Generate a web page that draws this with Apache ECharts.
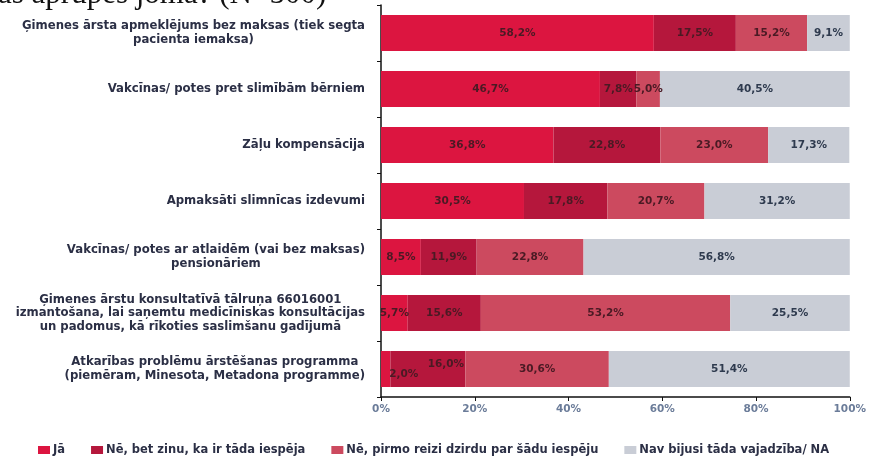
<!DOCTYPE html>
<html><head><meta charset="utf-8">
<script src="https://cdn.jsdelivr.net/npm/echarts@6/dist/echarts.min.js"></script>
<style>html,body{margin:0;padding:0;background:#fff}#c{width:869px;height:459px}</style>
</head><body><div id="c"></div>
<script>
const categories = [
  "Ģimenes ārsta apmeklējums bez maksas (tiek segta\npacienta iemaksa)",
  "Vakcīnas/ potes pret slimībām bērniem",
  "Zāļu kompensācija",
  "Apmaksāti slimnīcas izdevumi",
  "Vakcīnas/ potes ar atlaidēm (vai bez maksas)\npensionāriem",
  "Ģimenes ārstu konsultatīvā tālruņa 66016001\nizmantošana, lai saņemtu medicīniskas konsultācijas\nun padomus, kā rīkoties saslimšanu gadījumā",
  "Atkarības problēmu ārstēšanas programma\n(piemēram, Minesota, Metadona programme)"
];
const seriesNames = ["Jā", "Nē, bet zinu, ka ir tāda iespēja", "Nē, pirmo reizi dzirdu par šādu iespēju", "Nav bijusi tāda vajadzība/ NA"];
const jaValues = [58.2, 46.7, 36.8, 30.5, 8.5, 5.7, 2.0];
const neZinuValues = [17.5, 7.8, 22.8, 17.8, 11.9, 15.6, 16.0];
const nePirmoValues = [15.2, 5.0, 23.0, 20.7, 22.8, 53.2, 30.6];
const naValues = [9.1, 40.5, 17.3, 31.2, 56.8, 25.5, 51.4];
const xTicks = [0, 20, 40, 60, 80, 100];
const titleText = "as aprūpes jomā? (N=500)";

const colors = ["#DC1540", "#B5173C", "#CC4A5F", "#C9CDD6"];
const allValues = [jaValues, neZinuValues, nePirmoValues, naValues];
// label nudges for crowded segments (series index -> category index -> offset)
const labelNudge = {0: {6: [18, 5]}, 1: {6: [18, -5]}};

const F = "DejaVu Sans";
const chart = echarts.init(document.getElementById('c'), null, {renderer: 'canvas'});
chart.setOption({
  animation: false,
  backgroundColor: '#fff',
  graphic: [{
    type: 'text', left: -2, top: -21,
    style: {text: titleText, font: '31px "Liberation Serif"', fill: '#111'}
  }],
  grid: {left: 381, right: 18, top: 5, bottom: 62},
  legend: {
    top: 439, left: 33, itemWidth: 12, itemHeight: 8, itemGap: 26,
    icon: 'rect',
    textStyle: {fontFamily: F, fontSize: 11.5, fontWeight: 'bold', color: '#2b2f45', padding: [0, 0, 0, -2]},
    data: seriesNames
  },
  xAxis: {
    type: 'value', min: 0, max: 100, interval: 20,
    axisLine: {show: true, lineStyle: {color: '#111', width: 1.5}},
    axisTick: {show: true, length: 4, lineStyle: {color: '#111'}},
    splitLine: {show: false},
    axisLabel: {formatter: v => v + '%', fontFamily: F, fontSize: 10.5, fontWeight: 'bold', color: '#6b7c99', margin: 7}
  },
  yAxis: {
    type: 'category', inverse: true, data: categories,
    axisLine: {show: true, lineStyle: {color: '#111', width: 1.5}},
    axisTick: {show: true, length: 4, lineStyle: {color: '#111'}},
    axisLabel: {
      margin: 16, fontFamily: F, fontSize: 11.7, fontWeight: 'bold', color: '#2b2f45',
      formatter: v => v.split('\n').map(l => '{c|' + l + '}').join('\n'),
      rich: {c: {align: 'center', fontFamily: F, fontSize: 11.7, fontWeight: 'bold', color: '#2b2f45', lineHeight: 13.5}}
    }
  },
  series: seriesNames.map((n, i) => ({
    name: n, type: 'bar', stack: 'total', barWidth: 36,
    itemStyle: {color: colors[i]},
    label: {
      show: true, position: 'inside',
      formatter: p => p.value.toFixed(1).replace('.', ',') + '%',
      fontFamily: F, fontSize: 10.5, fontWeight: 'bold', color: i === 3 ? '#2e3a4e' : '#4a1a24'
    },
    data: allValues[i].map((v, j) => (labelNudge[i] && labelNudge[i][j])
      ? {value: v, label: {offset: labelNudge[i][j]}} : v)
  }))
});
</script></body></html>
